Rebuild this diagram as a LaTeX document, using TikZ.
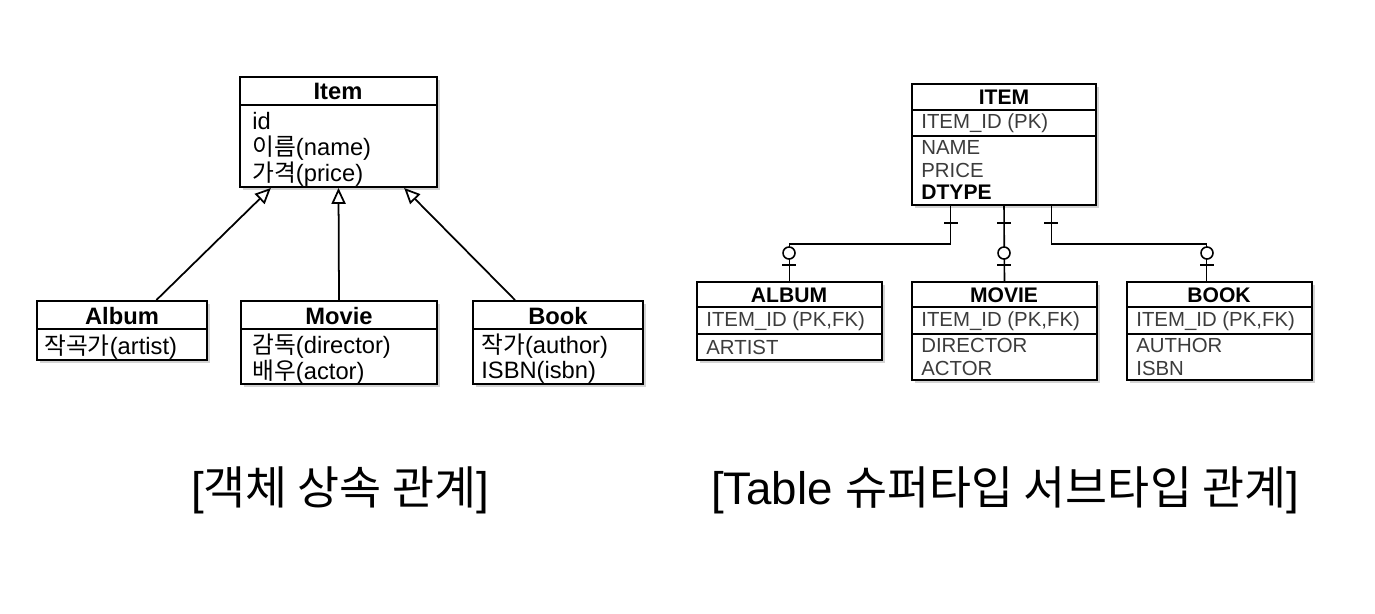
\documentclass[tikz,border=0pt]{standalone}
\usepackage{fontspec}
\setmainfont{Liberation Sans}
\newfontfamily\kr{Noto Sans CJK KR}
\usepackage{tikz}
\usetikzlibrary{fit,positioning,calc,arrows.meta,shadows}
\definecolor{mygray}{RGB}{60,60,60}

\begin{document}
\begin{tikzpicture}[x=0.02cm,y=-0.02cm,inner sep=0pt]
\tikzstyle{box}=[rectangle, draw=black, line width=1.1pt, fill=white, drop shadow={shadow xshift=0.05cm, shadow yshift=-0.06cm, opacity=0.35}]
\tikzstyle{title}=[font=\fontsize{13.5}{16}\selectfont\bfseries]
\tikzstyle{attr}=[anchor=west, font=\fontsize{13.5}{16}\selectfont]
\tikzstyle{tname}=[font=\fontsize{12}{14}\selectfont\bfseries]
\tikzstyle{col}=[anchor=west, text=mygray, font=\fontsize{11.6}{14}\selectfont]
\tikzstyle{inherit}=[line width=1pt, -{Triangle[open,length=9pt,width=8pt]}]
\tikzstyle{rel}=[line width=0.9pt]
\tikzstyle{caption}=[font=\fontsize{26}{30}\selectfont]
\useasboundingbox (0,0) rectangle (1375,613);
% object model
\node[box, fit={(240,77) (437,187)}] (item) {};
\node[box, fit={(37,301) (207,360)}] (album) {};
\node[box, fit={(241,301) (437,384)}] (movie) {};
\node[box, fit={(473,301) (643,384)}] (book) {};
\draw[line width=1.1pt] (240,105) -- (437,105);
\draw[line width=1.1pt] (37,329) -- (207,329);
\draw[line width=1.1pt] (241,329) -- (437,329);
\draw[line width=1.1pt] (473,329) -- (643,329);
\node[title] (itemt) at (338,91) {Item};
\node[attr] (itemid) at (252,121) {id};
\node[attr] (itemname) at (252,148) {{\kr 이름}(name)};
\node[attr] (itemprice) at (252,174) {{\kr 가격}(price)};
\node[title] (albumt) at (122,316) {Album};
\node[attr] (albumartist) at (44,347) {{\kr 작곡가}(artist)};
\node[title] (moviet) at (339,316) {Movie};
\node[attr] (moviedir) at (252,346) {{\kr 감독}(director)};
\node[attr] (movieact) at (252,372) {{\kr 배우}(actor)};
\node[title] (bookt) at (558,316) {Book};
\node[attr] (bookauth) at (481,346) {{\kr 작가}(author)};
\node[attr] (bookisbn) at (481,372) {ISBN(isbn)};
\draw[inherit] ($(album.north west)!0.7!(album.north east)$) -- ($(item.south west)!0.16!(item.south east)$);
\draw[inherit] (movie.north) -- (item.south);
\draw[inherit] ($(book.north west)!0.25!(book.north east)$) -- ($(item.south west)!0.83!(item.south east)$);
% tables
\node[box, fit={(912,84) (1096,205)}] (itemtb) {};
\node[box, fit={(697,282) (882,360)}] (albumtb) {};
\node[box, fit={(912,282) (1097,380)}] (movietb) {};
\node[box, fit={(1127,282) (1312,380)}] (booktb) {};
\draw[line width=1.1pt] (912,110) -- (1096,110);
\draw[line width=1.1pt] (912,136) -- (1096,136);
\foreach \x/\w in {697/185,912/185,1127/185} {
  \draw[line width=1.1pt] (\x,307) -- ++(\w,0);
  \draw[line width=1.1pt] (\x,334) -- ++(\w,0);
}
\node[tname] (itemtbt) at (1004,97) {ITEM};
\node[col] (itemtbid) at (921,123) {ITEM\_ID (PK)};
\node[col] (itemtbname) at (921,147) {NAME};
\node[col] (itemtbprice) at (921,170) {PRICE};
\node[col, text=black, font=\fontsize{12}{14}\selectfont\bfseries] (itemtbdtype) at (921,192) {DTYPE};
\node[tname] (albumtbt) at (789,295) {ALBUM};
\node[col] (albumtbid) at (706,321) {ITEM\_ID (PK,FK)};
\node[col] (albumtbartist) at (706,347) {ARTIST};
\node[tname] (movietbt) at (1004,295) {MOVIE};
\node[col] (movietbid) at (921,321) {ITEM\_ID (PK,FK)};
\node[col] (movietbdir) at (921,345) {DIRECTOR};
\node[col] (movietbact) at (921,368) {ACTOR};
\node[tname] (booktbt) at (1219,295) {BOOK};
\node[col] (booktbid) at (1136,321) {ITEM\_ID (PK,FK)};
\node[col] (booktbauth) at (1136,345) {AUTHOR};
\node[col] (booktbisbn) at (1136,368) {ISBN};
\coordinate (ia) at ($(itemtb.south west)!0.212!(itemtb.south east)$);
\coordinate (ib) at ($(itemtb.south west)!0.755!(itemtb.south east)$);
\coordinate (bb) at ($(booktb.north west)!0.43!(booktb.north east)$);
\draw[rel] (ia) -- ++(0,38) -| (albumtb.north);
\draw[rel] (itemtb.south) -- (movietb.north);
\draw[rel] (ib) -- ++(0,38) -| (bb);
\foreach \x in {951,1004,1051}
  \draw[rel] (\x-7,223) -- (\x+7,223);
\foreach \x in {789,1004,1207} {
  \draw[rel] (\x-7,265) -- (\x+7,265);
  \draw[rel,fill=white] (\x,253) circle [radius=6];
}
% captions
\node[caption] (cap1) at (340,490) {[{\kr 객체 상속 관계}]};
\node[caption] (cap2) at (1005,490) {[Table {\kr 슈퍼타입 서브타입 관계}]};
\end{tikzpicture}
\end{document}
